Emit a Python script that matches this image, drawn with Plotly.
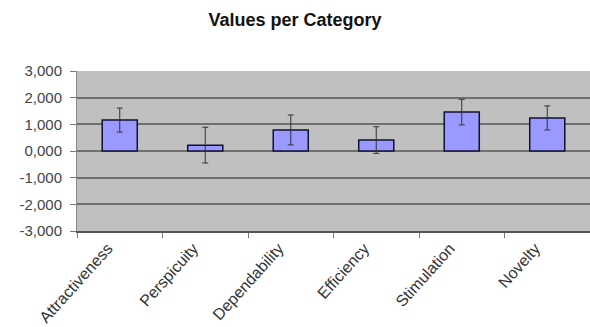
import plotly.graph_objects as go

categories = ["Attractiveness", "Perspicuity", "Dependability", "Efficiency", "Stimulation", "Novelty"]
values = [1.16, 0.22, 0.79, 0.41, 1.46, 1.24]
errors = [0.45, 0.67, 0.56, 0.50, 0.48, 0.45]
tick_vals = [3, 2, 1, 0, -1, -2, -3]
tick_text = ["3,000", "2,000", "1,000", "0,000", "-1,000", "-2,000", "-3,000"]

fig = go.Figure(go.Bar(
    x=categories, y=values,
    width=0.41,
    marker=dict(color="#9999FF", line=dict(color="#111133", width=1.5)),
    error_y=dict(type="data", array=errors, visible=True, color="#333333", thickness=1, width=3),
))

fig.update_layout(
    width=590, height=327,
    margin=dict(l=77, r=0, t=71, b=96),
    paper_bgcolor="white", plot_bgcolor="#C0C0C0",
    showlegend=False,
    title=dict(text="<b>Values per Category</b>", x=0.5, xanchor="center", y=0.94, yanchor="middle",
               font=dict(family="Arial, Liberation Sans, sans-serif", size=18, color="#111111")),
    font=dict(family="Arial, Liberation Sans, sans-serif", color="#333333"),
)
fig.update_yaxes(range=[-3, 3], tickvals=tick_vals, ticktext=tick_text, automargin=False,
                 showgrid=True, gridcolor="#707070", gridwidth=1.5,
                 zeroline=False, ticks="outside", ticklen=6, tickcolor="#777777",
                 ticklabelstandoff=5,
                 showline=True, linecolor="#888888", tickfont=dict(size=15, color="#444444"))
fig.update_xaxes(tickangle=-48, tickson="boundaries", ticks="outside", ticklen=5, tickcolor="#777777",
                 showline=True, linecolor="#555555", linewidth=1.5, automargin=False,
                 ticklabelshift=-12,
                 tickfont=dict(size=16, color="#333333"))

fig.write_html("out.html", config={"displayModeBar": False},
               post_script="document.body.style.margin='0';document.body.style.overflow='hidden';")
